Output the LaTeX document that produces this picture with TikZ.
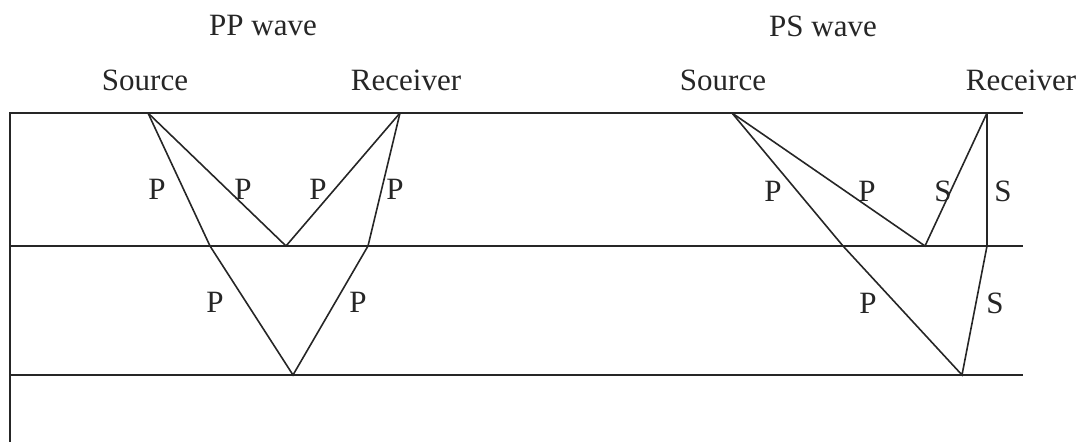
\documentclass[tikz,border=0pt]{standalone}
\usepackage{fontspec}
\setmainfont{Liberation Serif}
\usepackage{tikz}
\usetikzlibrary{positioning}

\begin{document}
\begin{tikzpicture}[x=0.5pt,y=-0.5pt,line width=0.8pt,
  lbl/.style={font=\fontsize{15.5}{18}\selectfont,inner sep=0pt,text=black!85}]
\useasboundingbox (0,0) rectangle (1089,442);
% layers
\coordinate (tl) at (10,113); \coordinate (tr) at (1023,113);
\coordinate (ml) at (10,246); \coordinate (mr) at (1023,246);
\coordinate (bl) at (10,375); \coordinate (br) at (1023,375);
\coordinate (end) at (10,442);
\draw[black!85] (end)--(tl)--(tr) (ml)--(mr) (bl)--(br);
% PP wave
\coordinate (ppS) at (148,113); \coordinate (ppR) at (400,113);
\coordinate (ppA) at (286,246);
\coordinate (ppB) at (210,246); \coordinate (ppC) at (293,375); \coordinate (ppD) at (368,246);
\draw[black!85] (ppS)--(ppA)--(ppR);
\draw[black!85] (ppS)--(ppB)--(ppC)--(ppD)--(ppR);
% PS wave
\coordinate (psS) at (732,113); \coordinate (psR) at (987,113);
\coordinate (psA) at (925,246);
\coordinate (psB) at (843,246); \coordinate (psC) at (962,375); \coordinate (psD) at (987,246);
\draw[black!85] (psS)--(psA)--(psR);
\draw[black!85] (psS)--(psB)--(psC)--(psD)--(psR);
% titles
\node[lbl] (ppT) at (263,26) {PP wave};
\node[lbl] (ppSrc) at (145,80) {Source};
\node[lbl] (ppRcv) at (406,80) {Receiver};
\node[lbl] (psT) at (823,26) {PS wave};
\node[lbl] (psSrc) at (723,80) {Source};
\node[lbl] (psRcv) at (1021,80) {Receiver};
% ray labels
\node[lbl] (p1) at (157,189) {P};
\node[lbl] (p2) at (243,189) {P};
\node[lbl] (p3) at (318,189) {P};
\node[lbl] (p4) at (395,189) {P};
\node[lbl] (p5) at (215,302) {P};
\node[lbl] (p6) at (358,302) {P};
\node[lbl] (q1) at (773,191) {P};
\node[lbl] (q2) at (867,191) {P};
\node[lbl] (q3) at (943,191) {S};
\node[lbl] (q4) at (1003,191) {S};
\node[lbl] (q5) at (868,303) {P};
\node[lbl] (q6) at (995,303) {S};
\end{tikzpicture}
\end{document}
